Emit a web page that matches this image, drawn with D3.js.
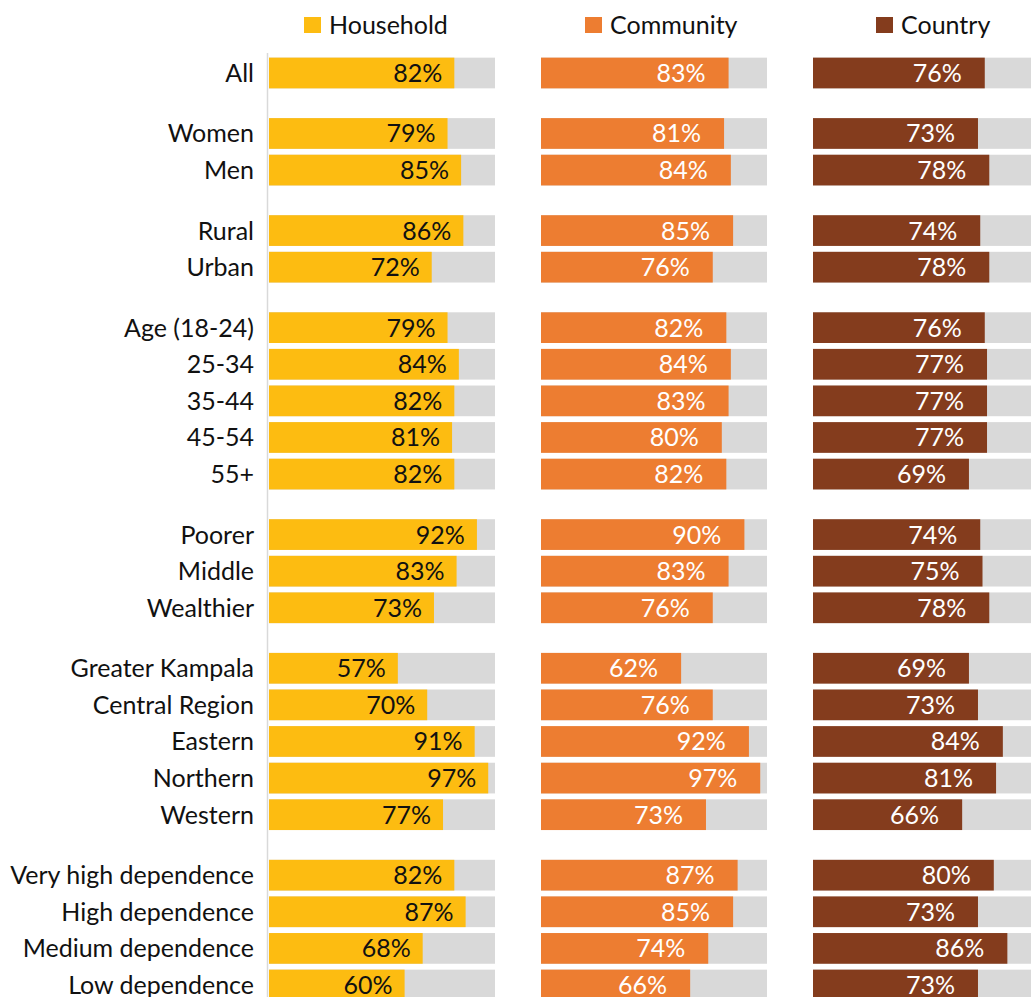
<!DOCTYPE html>
<html>
<head>
<meta charset="utf-8">
<script src="https://cdn.jsdelivr.net/npm/d3@7"></script>
<style>
  html, body { margin: 0; padding: 0; background: #fff; }
  svg { display: block; }
  text { font-family: Lato, "Noto Sans", sans-serif; }
</style>
</head>
<body>
<svg id="chart" width="1031" height="997"></svg>
<script>
// Row categories, in display order
const categories = [
  "All",
  "Women", "Men",
  "Rural", "Urban",
  "Age (18-24)", "25-34", "35-44", "45-54", "55+",
  "Poorer", "Middle", "Wealthier",
  "Greater Kampala", "Central Region", "Eastern", "Northern", "Western",
  "Very high dependence", "High dependence", "Medium dependence", "Low dependence"
];
// Group index of each row (a gap separates groups)
const groupOf = [0, 1, 1, 2, 2, 3, 3, 3, 3, 3, 4, 4, 4, 5, 5, 5, 5, 5, 6, 6, 6, 6];

// Percentages per series
const household = [82, 79, 85, 86, 72, 79, 84, 82, 81, 82, 92, 83, 73, 57, 70, 91, 97, 77, 82, 87, 68, 60];
const community = [83, 81, 84, 85, 76, 82, 84, 83, 80, 82, 90, 83, 76, 62, 76, 92, 97, 73, 87, 85, 74, 66];
const country   = [76, 73, 78, 74, 78, 76, 77, 77, 77, 69, 74, 75, 78, 69, 73, 84, 81, 66, 80, 73, 86, 73];

const seriesNames = ["Household", "Community", "Country"];
const seriesValues = [household, community, country];
const seriesColors = ["#fdbc11", "#ed7d31", "#843c1d"];
const labelColors = ["#111111", "#ffffff", "#ffffff"];

const svg = d3.select("#chart");
const fontSize = 25;

// Vertical placement: each row occupies one slot, each group break adds a partial slot
const gapFrac = 0.652;
const slot = categories.map((c, i) => i + groupOf[i] * gapFrac);
const y = d3.scaleLinear()
  .domain([0, d3.max(slot)])
  .range([73, 985]);
const barH = 30.7;

const panelX = [269, 541, 813];
const panelW = 226;
const x = d3.scaleLinear().domain([0, 100]).range([0, panelW]);
const labelInset = [12, 23, 23];

// Axis line along the first panel
svg.append("line")
  .attr("x1", 267.5).attr("x2", 267.5)
  .attr("y1", 53).attr("y2", 997)
  .attr("stroke", "#d9d9d9").attr("stroke-width", 1.5);

// Category labels
svg.append("g").selectAll("text")
  .data(categories)
  .join("text")
  .attr("x", 254)
  .attr("y", (d, i) => y(slot[i]))
  .attr("dy", "0.36em")
  .attr("text-anchor", "end")
  .attr("font-size", fontSize)
  .attr("fill", "#111")
  .text(d => d);

seriesNames.forEach((name, s) => {
  const g = svg.append("g").attr("transform", `translate(${panelX[s]},0)`);
  const vals = seriesValues[s];

  // Grey track (100%)
  g.selectAll("rect.track")
    .data(vals)
    .join("rect")
    .attr("class", "track")
    .attr("x", x(0))
    .attr("y", (d, i) => y(slot[i]) - barH / 2)
    .attr("width", x(100) - x(0))
    .attr("height", barH)
    .attr("fill", "#d9d9d9");

  // Value bar
  g.selectAll("rect.bar")
    .data(vals)
    .join("rect")
    .attr("class", "bar")
    .attr("x", x(0))
    .attr("y", (d, i) => y(slot[i]) - barH / 2)
    .attr("width", d => x(d) - x(0))
    .attr("height", barH)
    .attr("fill", seriesColors[s]);

  // Value labels
  g.selectAll("text.val")
    .data(vals)
    .join("text")
    .attr("class", "val")
    .attr("x", d => x(d) - labelInset[s])
    .attr("y", (d, i) => y(slot[i]))
    .attr("dy", "0.36em")
    .attr("text-anchor", "end")
    .attr("font-size", fontSize)
    .attr("fill", labelColors[s])
    .text(d => d + "%");
});

// Legend
const legendX = [304, 585, 876];
const legend = svg.append("g").selectAll("g")
  .data(seriesNames)
  .join("g")
  .attr("transform", (d, i) => `translate(${legendX[i]},0)`);
legend.append("rect")
  .attr("x", 0).attr("y", 17)
  .attr("width", 17).attr("height", 16)
  .attr("fill", (d, i) => seriesColors[i]);
legend.append("text")
  .attr("x", 25).attr("y", 25)
  .attr("dy", "0.36em")
  .attr("font-size", fontSize)
  .attr("fill", "#111")
  .text(d => d);
</script>
</body>
</html>
